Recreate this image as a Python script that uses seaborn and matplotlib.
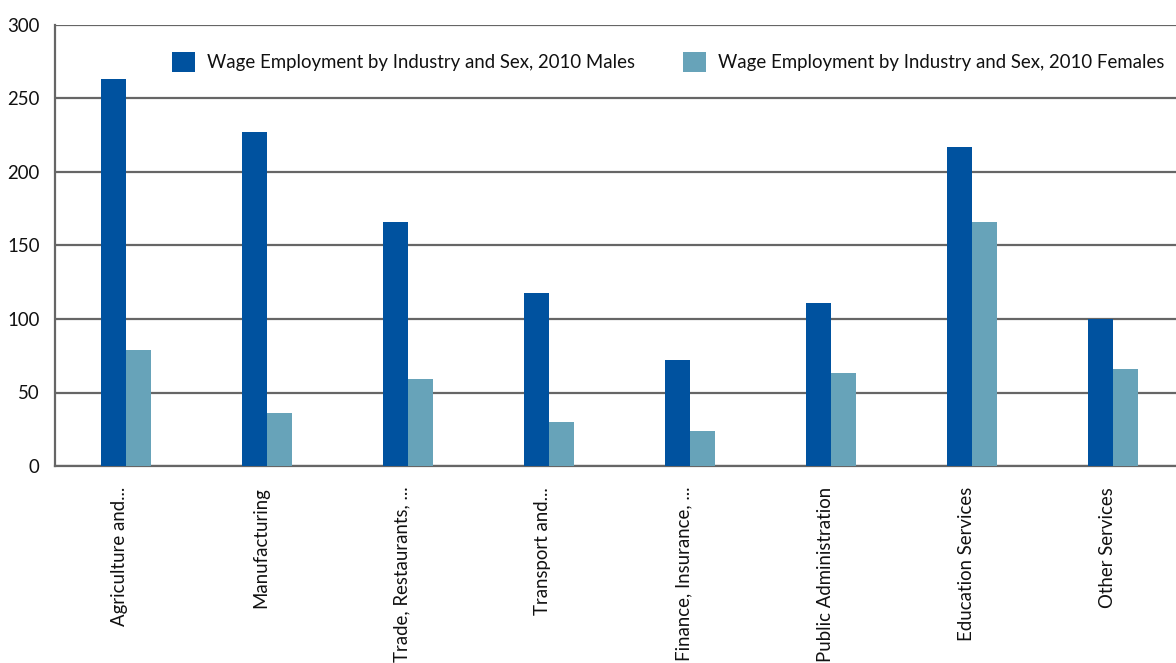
import matplotlib
matplotlib.use("Agg")
import matplotlib.pyplot as plt
import matplotlib.transforms as mtransforms
import seaborn as sns
import pandas as pd

industries = [
    "Agriculture and...",
    "Manufacturing",
    "Trade, Restaurants, ...",
    "Transport and...",
    "Finance, Insurance, ...",
    "Public Administration",
    "Education Services",
    "Other Services",
]
males = [263, 227, 166, 118, 72, 111, 217, 100]
females = [79, 36, 59, 30, 24, 63, 166, 66]
series_names = [
    "Wage Employment by Industry and Sex, 2010 Males",
    "Wage Employment by Industry and Sex, 2010 Females",
]
y_ticks = [0, 50, 100, 150, 200, 250, 300]

df = pd.DataFrame({
    "Industry": industries * 2,
    "Value": males + females,
    "Series": [series_names[0]] * len(industries) + [series_names[1]] * len(industries),
})

sns.set_theme(style="white")
plt.rcParams["font.family"] = ["Lato", "DejaVu Sans"]

grid_color = "#666666"
text_color = "#111111"
palette = {series_names[0]: "#00529F", series_names[1]: "#67A3B9"}
fs = 13.4

fig = plt.figure(figsize=(11.76, 6.63), dpi=100)
ax = fig.add_axes([55 / 1176, 1 - 466 / 663, 1 - 55 / 1176, (466 - 25) / 663])

sns.barplot(data=df, x="Industry", y="Value", hue="Series", palette=palette,
            width=0.354, saturation=1, ax=ax, zorder=3, linewidth=0)

ax.set_ylim(0, 300)
ax.set_xlim(-0.5, 7.443)
ax.set_yticks(y_ticks)
ax.set_yticklabels([str(t) for t in y_ticks], fontsize=fs, color=text_color)
ax.tick_params(axis="y", length=0, pad=11)
ax.tick_params(axis="x", length=0, pad=15)

# category labels sit slightly left of the bar-pair centre
shift = mtransforms.ScaledTranslation(-6 / 100, 0, fig.dpi_scale_trans)
for lbl in ax.get_xticklabels():
    lbl.set_rotation(90)
    lbl.set_fontsize(fs)
    lbl.set_color(text_color)
    lbl.set_va("top")
    lbl.set_ha("center")
    lbl.set_transform(lbl.get_transform() + shift)

ax.yaxis.grid(True, color=grid_color, linewidth=1.6, zorder=0)
ax.set_axisbelow(True)
for side in ["top", "right"]:
    ax.spines[side].set_visible(False)
for side in ["left", "bottom"]:
    ax.spines[side].set_color(grid_color)
    ax.spines[side].set_linewidth(1.6)

ax.set_xlabel("")
ax.set_ylabel("")

leg = ax.legend(loc="center left", bbox_to_anchor=(172 / 1176, 1 - 62 / 663),
                bbox_transform=fig.transFigure, ncol=2, frameon=False,
                fontsize=fs, handlelength=1.24, handleheight=1.24,
                handletextpad=0.64, columnspacing=2.6, borderaxespad=0,
                borderpad=0)
for t in leg.get_texts():
    t.set_color(text_color)

fig.savefig("out.png", dpi=100)
